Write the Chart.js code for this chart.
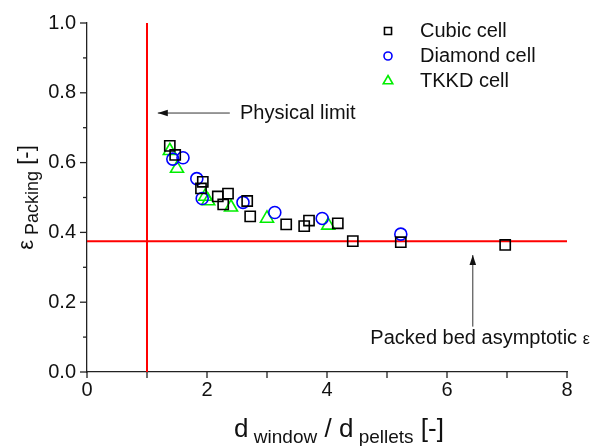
<!DOCTYPE html>
<html>
<head>
<meta charset="utf-8">
<script src="https://cdn.jsdelivr.net/npm/chart.js@4.4.1/dist/chart.umd.min.js"></script>
<style>
  html, body { margin: 0; padding: 0; background: #fff; }
  #wrap { width: 593px; height: 446px; }
</style>
</head>
<body>
<div id="wrap"><canvas id="packingChart" width="593" height="446"></canvas></div>
<script>
// data
const cubicX = [1.38, 1.47, 1.90, 1.93, 2.18, 2.27, 2.35, 2.67, 2.72, 3.32, 3.62, 3.70, 4.18, 4.43, 5.23, 6.97];
const cubicY = [0.648, 0.622, 0.526, 0.545, 0.503, 0.480, 0.511, 0.490, 0.446, 0.423, 0.418, 0.434, 0.426, 0.375, 0.372, 0.364];
const diamondX = [1.43, 1.60, 1.83, 1.92, 2.60, 3.13, 3.92, 5.23];
const diamondY = [0.610, 0.614, 0.554, 0.497, 0.486, 0.457, 0.440, 0.395];
const tkkdX = [1.38, 1.50, 1.97, 2.02, 2.40, 3.00, 4.02];
const tkkdY = [0.634, 0.583, 0.503, 0.490, 0.472, 0.440, 0.420];

const asymptoteX = [0, 8];
const asymptoteY = [0.375, 0.375];
const limitX = [1, 1];
const limitY = [0, 1];

const xTicks = [0, 2, 4, 6, 8];
const yTicks = [0.0, 0.2, 0.4, 0.6, 0.8, 1.0];

const FONT = "'Liberation Sans', Arial, sans-serif";

function pts(xs, ys) {
  return xs.map((x, i) => ({ x: x, y: ys[i] }));
}

const series = [
  { label: "Cubic cell", xs: cubicX, ys: cubicY, style: "rect", color: "#000000", radius: 7.2, legendR: 5 },
  { label: "Diamond cell", xs: diamondX, ys: diamondY, style: "circle", color: "#0000ff", radius: 6, legendR: 4 },
  { label: "TKKD cell", xs: tkkdX, ys: tkkdY, style: "triangle", color: "#00ee00", radius: 7.5, legendR: 5.5 },
];

// ticks (major + minor), axis titles, legend and arrow annotations
const decorations = {
  id: "decorations",
  afterDraw(chart) {
    const { ctx, chartArea, scales } = chart;
    const xs = scales.x, ys = scales.y;
    ctx.save();
    ctx.strokeStyle = "#222";
    ctx.lineWidth = 1.3;

    // x ticks
    for (let v = 0; v <= 8; v += 1) {
      const px = xs.getPixelForValue(v);
      ctx.beginPath();
      ctx.moveTo(px, chartArea.bottom);
      ctx.lineTo(px, chartArea.bottom + 6);
      ctx.stroke();
    }
    // y ticks
    for (let i = 0; i <= 10; i++) {
      const py = ys.getPixelForValue(i / 10);
      const len = i % 2 === 0 ? 7 : 4;
      ctx.beginPath();
      ctx.moveTo(chartArea.left, py);
      ctx.lineTo(chartArea.left - len, py);
      ctx.stroke();
    }

    ctx.fillStyle = "#111";
    ctx.textBaseline = "alphabetic";
    ctx.textAlign = "left";

    // x title: d window / d pellets [-]
    const runs = [
      ["d", 26, 0], [" window", 19, 6], [" / d", 26, 0], [" pellets", 19, 6], [" [-]", 26, 0]
    ];
    let total = 0;
    runs.forEach(r => { ctx.font = r[1] + "px " + FONT; total += ctx.measureText(r[0]).width; });
    let cx = (chartArea.left + chartArea.right) / 2 - total / 2 + 12;
    runs.forEach(r => {
      ctx.font = r[1] + "px " + FONT;
      ctx.fillText(r[0], cx, 437 + r[2]);
      cx += ctx.measureText(r[0]).width;
    });

    // y title: ε Packing [-]
    ctx.save();
    ctx.translate(33, (chartArea.top + chartArea.bottom) / 2);
    ctx.rotate(-Math.PI / 2);
    const yruns = [["\u03b5", 22, 0], [" Packing", 18, 5], [" [-]", 22, 0]];
    let yt = 0;
    yruns.forEach(r => { ctx.font = r[1] + "px " + FONT; yt += ctx.measureText(r[0]).width; });
    let yx = -yt / 2;
    yruns.forEach(r => {
      ctx.font = r[1] + "px " + FONT;
      ctx.fillText(r[0], yx, r[2]);
      yx += ctx.measureText(r[0]).width;
    });
    ctx.restore();

    // legend
    ctx.font = "20px " + FONT;
    ctx.textBaseline = "middle";
    series.forEach((s, i) => {
      const lx = chartArea.right - 179;
      const ly = chartArea.top + 8 + i * 25;
      ctx.strokeStyle = s.color;
      ctx.fillStyle = "rgba(0,0,0,0)";
      ctx.lineWidth = 1.6;
      Chart.helpers.drawPoint(ctx, { pointStyle: s.style, radius: s.legendR, borderWidth: 1.6 }, lx, ly);
      ctx.fillStyle = "#111";
      ctx.fillText(s.label, lx + 32, ly);
    });

    // annotations
    function arrow(x0, y0, x1, y1) {
      const ax = xs.getPixelForValue(x0), ay = ys.getPixelForValue(y0);
      const bx = xs.getPixelForValue(x1), by = ys.getPixelForValue(y1);
      ctx.strokeStyle = "#333";
      ctx.fillStyle = "#111";
      ctx.lineWidth = 1;
      ctx.beginPath();
      ctx.moveTo(ax, ay);
      ctx.lineTo(bx, by);
      ctx.stroke();
      const ang = Math.atan2(by - ay, bx - ax);
      const hl = 10, hw = 3.3;
      ctx.beginPath();
      ctx.moveTo(bx, by);
      ctx.lineTo(bx - hl * Math.cos(ang) + hw * Math.sin(ang), by - hl * Math.sin(ang) - hw * Math.cos(ang));
      ctx.lineTo(bx - hl * Math.cos(ang) - hw * Math.sin(ang), by - hl * Math.sin(ang) + hw * Math.cos(ang));
      ctx.closePath();
      ctx.fill();
    }
    arrow(2.38, 0.742, 1.18, 0.742);
    arrow(6.43, 0.13, 6.43, 0.335);

    ctx.fillStyle = "#111";
    ctx.font = "20px " + FONT;
    ctx.textBaseline = "middle";
    ctx.textAlign = "left";
    ctx.fillText("Physical limit", xs.getPixelForValue(2.55), ys.getPixelForValue(0.742));

    const eps = "\u03b5";
    ctx.font = "16px " + FONT;
    const epsW = ctx.measureText(eps).width;
    const right = xs.getPixelForValue(8.38);
    const ty = ys.getPixelForValue(0.097);
    ctx.textAlign = "right";
    ctx.fillText(eps, right, ty + 1);
    ctx.font = "20px " + FONT;
    ctx.fillText("Packed bed asymptotic ", right - epsW, ty);
    ctx.restore();
  }
};

const ctx = document.getElementById("packingChart").getContext("2d");

const datasets = series.map(s => ({
  type: "scatter",
  label: s.label,
  data: pts(s.xs, s.ys),
  pointStyle: s.style,
  pointRadius: s.radius,
  pointBorderWidth: 1.6,
  borderColor: s.color,
  backgroundColor: "rgba(0,0,0,0)",
  order: 1,
}));

datasets.push({
  type: "line",
  label: "asymptote",
  data: pts(asymptoteX, asymptoteY),
  borderColor: "#ff0000",
  borderWidth: 2,
  pointRadius: 0,
  order: 2,
});
datasets.push({
  type: "line",
  label: "limit",
  data: pts(limitX, limitY),
  borderColor: "#ff0000",
  borderWidth: 2,
  pointRadius: 0,
  order: 2,
});

const packingChart = new Chart(ctx, {
  type: "scatter",
  data: { datasets: datasets },
  options: {
    responsive: false,
    animation: false,
    layout: { padding: { top: 19, right: 26, left: 0, bottom: 0 } },
    plugins: {
      legend: { display: false },
      tooltip: { enabled: false },
    },
    scales: {
      x: {
        type: "linear",
        min: 0,
        max: 8,
        afterBuildTicks: (scale) => { scale.ticks = xTicks.map(v => ({ value: v })); },
        afterFit: (scale) => { scale.height = 74; },
        grid: { display: false, drawTicks: false },
        border: { display: true, color: "#222", width: 1.3 },
        ticks: {
          padding: 6,
          color: "#111",
          font: { family: FONT, size: 20 },
          callback: (v) => String(v),
        },
      },
      y: {
        type: "linear",
        min: 0,
        max: 1,
        afterBuildTicks: (scale) => { scale.ticks = yTicks.map(v => ({ value: v })); },
        afterFit: (scale) => { scale.width = 87; },
        grid: { display: false, drawTicks: false },
        border: { display: true, color: "#222", width: 1.3 },
        ticks: {
          padding: 11,
          color: "#111",
          font: { family: FONT, size: 20 },
          callback: (v) => Number(v).toFixed(1),
        },
      },
    },
  },
  plugins: [decorations],
});
</script>
</body>
</html>
